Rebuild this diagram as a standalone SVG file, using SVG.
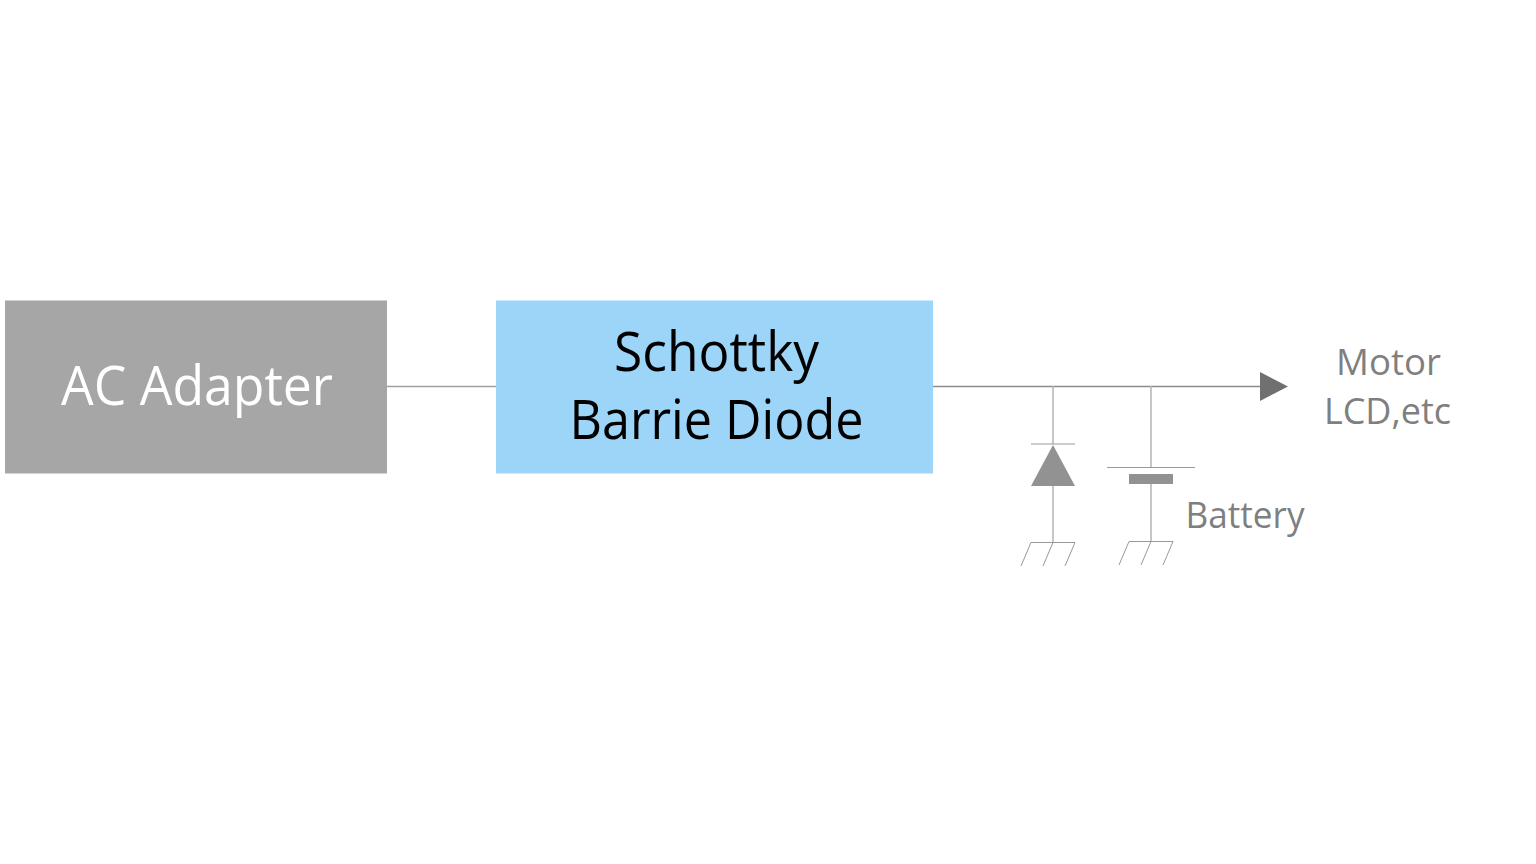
<svg xmlns="http://www.w3.org/2000/svg" width="1536" height="864" viewBox="0 0 1536 864">
<style>
.w{fill:none;stroke:#b4b4b4;stroke-width:1.5}
.h{fill:none;stroke:#999;stroke-width:1}
.t{font-family:"Open Sans","Noto Sans","Liberation Sans",sans-serif;text-anchor:middle}
.g{fill:#7f7f7f;font-size:36px}
.b{font-size:54px}
</style>
<rect width="1536" height="864" fill="#fff"/>
<g id="connectors">
<path d="M387 386.500H496" fill="none" stroke="#a0a0a0" stroke-width="1.300"/>
<path d="M933 386.500H1262" fill="none" stroke="#8c8c8c" stroke-width="1.300"/>
<polygon points="1260,372 1288,386.500 1260,401" fill="#707070"/>
<path d="M1053 386V444M1053 486V543M1151 386V467M1151 484V541" class="w"/>
</g>
<g id="ac-adapter"><rect x="5" y="300.500" width="382" height="173" fill="#a6a6a6"/><text x="197" y="405" class="t b" fill="#fff" textLength="272" lengthAdjust="spacingAndGlyphs">AC Adapter</text></g>
<g id="schottky"><rect x="496" y="300.500" width="437" height="173" fill="#9dd5f9"/><text x="716.500" y="371" class="t b" fill="#000" textLength="205" lengthAdjust="spacingAndGlyphs">Schottky</text><text x="716.500" y="439" class="t b" fill="#000" textLength="294" lengthAdjust="spacingAndGlyphs">Barrie Diode</text></g>
<g id="diode"><path d="M1031 444H1075" class="h"/><polygon points="1053,445 1075,486 1031,486" fill="#929292"/></g>
<g id="battery"><path d="M1107 467.500H1195" class="h"/><rect x="1129" y="474" width="44" height="10" fill="#929292"/></g>
<g id="ground1"><path d="M1031 542.500H1075M1031 542.500L1021 566M1053 542.500L1043 566M1075 542.500L1065 566" class="h"/></g>
<g id="ground2"><path d="M1129 541.500H1173M1129 541.500L1119 565M1151 541.500L1141 565M1173 541.500L1163 565" class="h"/></g>
<g id="motor"><text x="1388.500" y="375" class="t g" textLength="105" lengthAdjust="spacingAndGlyphs">Motor</text><text x="1387.500" y="424" class="t g">LCD,etc</text></g>
<g id="battery-label"><text x="1245" y="528" class="t g" textLength="119" lengthAdjust="spacingAndGlyphs">Battery</text></g>
</svg>
